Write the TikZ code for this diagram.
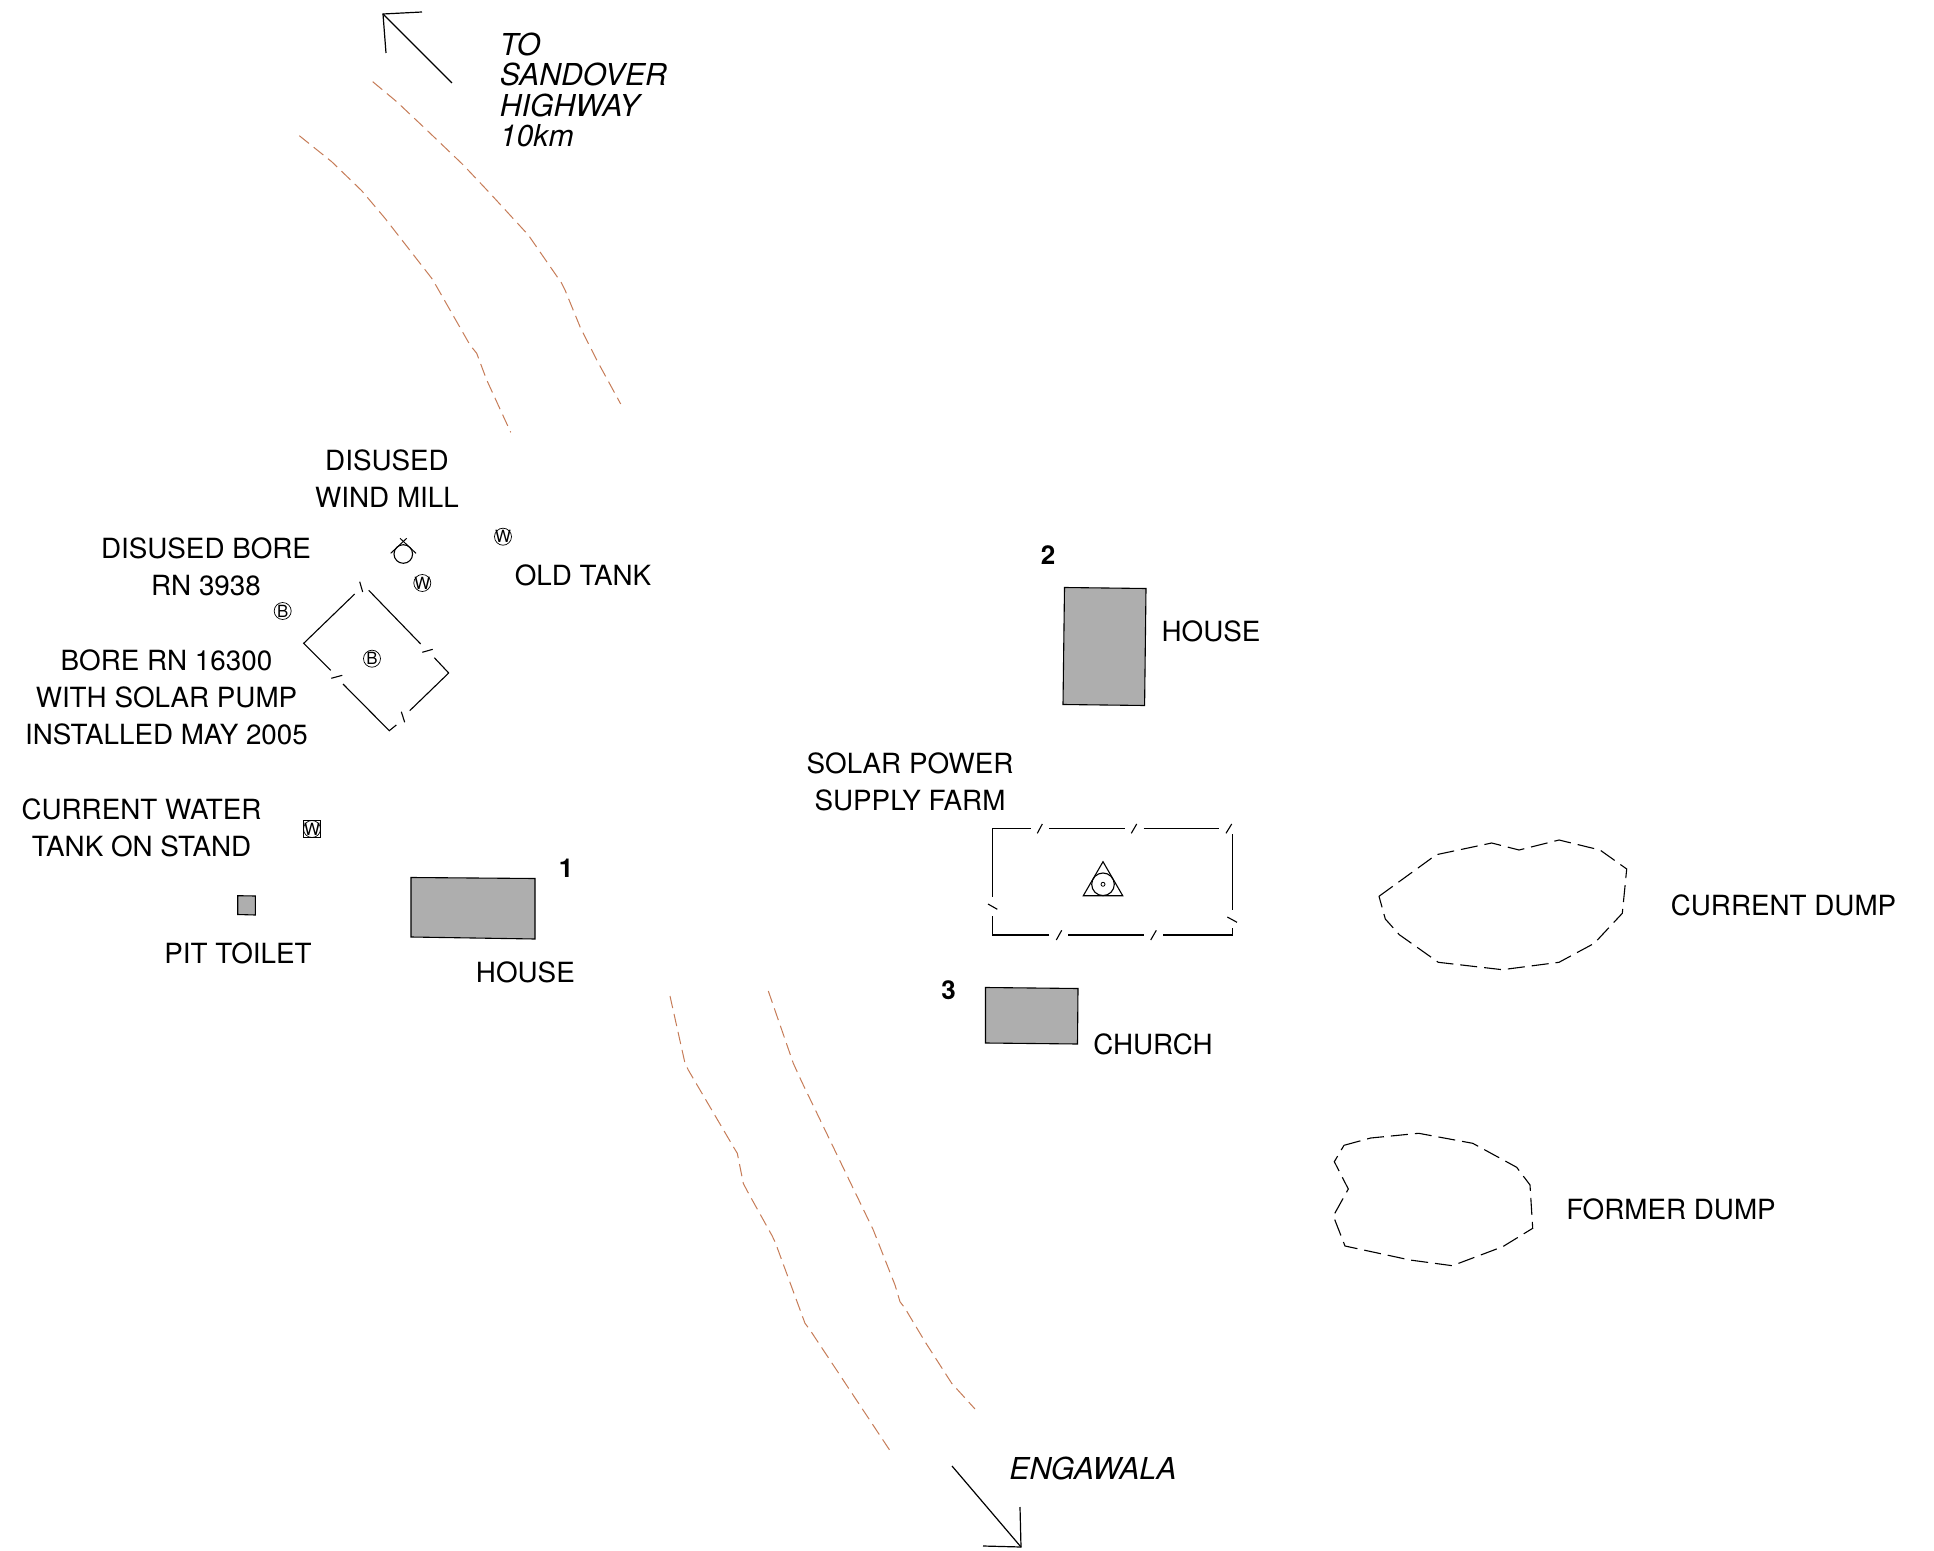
\documentclass[tikz,border=0pt]{standalone}
\usepackage{fontspec}
\setmainfont{TeX Gyre Heros}
\definecolor{roadcol}{HTML}{C67C58}
\definecolor{housecol}{HTML}{AEAEAE}
\begin{document}
\begin{tikzpicture}[x=0.5pt, y=-0.5pt, line join=miter,
    every node/.style={font=\fontsize{13.9}{18.5}\selectfont, inner sep=0pt, align=center},
    roadline/.style={draw=roadcol, line width=0.5pt, dash pattern=on 6.2pt off 3pt},
    dumpline/.style={draw=black, line width=0.55pt, dash pattern=on 8.5pt off 3.5pt},
    fenceline/.style={draw=black, line width=0.55pt},
    building/.style={draw=black, fill=housecol, line width=0.55pt},
    wellmark/.style={draw=black, circle, inner sep=-1pt, line width=0.35pt, minimum size=8.5pt, font=\fontsize{8.4}{9}\selectfont},
    routelabel/.style={font=\fontsize{15.1}{15.2}\selectfont\itshape, align=left},
    numlabel/.style={font=\fontsize{13}{15}\selectfont\bfseries}]
    \useasboundingbox (0,0) rectangle (1934,1551);

    % arrows
    \coordinate (hwytail) at (452,83);
    \coordinate (hwytip) at (383,14);
    \coordinate (hwybarba) at (422,12);
    \coordinate (hwybarbb) at (386,53);
    \draw[line width=0.6pt] (hwytail) -- (hwytip);
    \draw[line width=0.6pt] (hwybarba) -- (hwytip) -- (hwybarbb);
    \coordinate (engtail) at (952,1466);
    \coordinate (engtip) at (1021,1547);
    \coordinate (engbarba) at (983,1546);
    \coordinate (engbarbb) at (1020,1507);
    \draw[line width=0.6pt] (engtail) -- (engtip);
    \draw[line width=0.6pt] (engbarba) -- (engtip) -- (engbarbb);

    % road edges
    \draw[roadline] (372.7,81.7) -- (396.7,101.7) -- (426.7,130) -- (463.3,165) -- (490,193.3) -- (528.3,235) -- (561.7,283.3) -- (565,290) -- (580,326.7) -- (596.7,360) -- (620.7,404);
    \draw[roadline] (299.3,135.7) -- (331.7,161.7) -- (361.7,190.7) -- (385,218.3) -- (431.7,278.3) -- (436.7,286.7) -- (470,345) -- (476.7,353.3) -- (486.7,380) -- (510.7,432.3);
    \draw[roadline] (670,996) -- (685,1063.3) -- (688.3,1070) -- (733.3,1146.7) -- (737.3,1153.3) -- (743.3,1183.3) -- (746.7,1190) -- (771.7,1235) -- (775,1241.7) -- (805,1323.3) -- (810,1330) -- (890.7,1451.7);
    \draw[roadline] (768.3,991) -- (793.3,1063.3) -- (801.7,1081.7) -- (873.3,1230) -- (895,1285) -- (900,1301.7) -- (905,1308.3) -- (925,1341.7) -- (951.7,1383.3) -- (975,1409);

    % houses
    \draw[building] (411,877.5) -- (535,878.5) -- (535,939) -- (411,937) -- cycle;
    \draw[building] (1064.5,587.5) -- (1146,588.5) -- (1144.6,705.5) -- (1063,704.5) -- cycle;
    \draw[building] (985.5,987.5) -- (1078,988.5) -- (1077.5,1044) -- (985.5,1043) -- cycle;
    \draw[building] (237.7,895.7) -- (255.3,896) -- (255.3,915) -- (237.7,914.5) -- cycle;

    % dumps
    \draw[dumpline] (1379,896.3) -- (1436.3,854.7) -- (1491.7,843) -- (1519,850) -- (1559,840) -- (1600,850) -- (1626.7,869) -- (1622.3,913.3) -- (1594.3,943.3) -- (1559,962.3) -- (1502.3,969.7) -- (1438.3,962.3) -- (1399.3,934.7) -- (1385.3,919) -- cycle;
    \draw[dumpline] (1344,1145.3) -- (1370.7,1138) -- (1418.7,1133.3) -- (1472.7,1143.3) -- (1516.7,1167.3) -- (1530,1185) -- (1532.7,1228.3) -- (1502.7,1246.7) -- (1452.3,1265.7) -- (1410,1260) -- (1345,1246) -- (1333.3,1216) -- (1348.3,1189) -- (1334.3,1161.7) -- cycle;

    % bore fence
    \draw[fenceline] (354.7,594) -- (303.7,643.3) -- (330.7,670.3);
    \draw[fenceline] (359.7,581.7) -- (362.7,592);
    \draw[fenceline] (368.7,590.3) -- (420.7,644);
    \draw[fenceline] (422.3,652.3) -- (432.7,649.3);
    \draw[fenceline] (434.3,657.7) -- (448.7,673) -- (409.7,710.7);
    \draw[fenceline] (401.3,711.7) -- (404.7,722.3);
    \draw[fenceline] (396.3,725) -- (389.3,730.7) -- (343,684);
    \draw[fenceline] (331.3,678.3) -- (342.3,675.3);

    % solar fence
    \draw[fenceline] (992.3,896.7) -- (992.3,828.7) -- (1030.7,828.7);
    \draw[fenceline] (1049,828.7) -- (1125,828.7);
    \draw[fenceline] (1143.7,828.7) -- (1219.3,828.7);
    \draw[fenceline] (1232.3,834) -- (1232.3,910);
    \draw[fenceline] (1232.3,928.3) -- (1232.3,935) -- (1163,935);
    \draw[fenceline] (1143.7,935) -- (1068,935);
    \draw[fenceline] (1049,935) -- (992.3,935) -- (992.3,916.3);
    \foreach \xa/\ya/\xb/\yb in {1037.3/833.3/1042.3/824, 1131.3/833.3/1136.7/824, 1226/833.3/1231.7/824, 1227.3/917/1237/922.3, 1150.7/940/1156.3/930.3, 1056.3/940/1061.7/930.3, 988/904/997.3/909.3}
        \draw[fenceline] (\xa,\ya) -- (\xb,\yb);

    % solar mark
    \draw[fenceline] (1103,861.7) -- (1083.3,895.7) -- (1122.7,895.7) -- cycle;
    \draw[fenceline] (1103,884.3) circle (11.3);
    \draw[line width=0.4pt] (1103,884.3) circle (2);

    % wind mill
    \draw[fenceline] (403.3,554) circle (9.3);
    \draw[line width=0.5pt] (400,538.3) -- (416,553.3);
    \draw[line width=0.5pt] (406.7,538.3) -- (390.7,553.3);

    % wells and tanks
    \node[wellmark] (tankb) at (422.3,583) {W};
    \node[wellmark] (tanka) at (503,536.7) {W};
    \node[wellmark] (borea) at (282.7,611) {B};
    \node[wellmark] (boreb) at (372,658.7) {B};
    \node[wellmark] (tankc) at (312,829) {W};
    \draw[line width=0.5pt] (303.3,820.3) rectangle (320.7,837.7);

    % labels
    \node (windlbl) at (387,479) {DISUSED\\WIND MILL};
    \node (disusedlbl) at (206,567) {DISUSED BORE\\RN 3938};
    \node (borelbl) at (166.5,697) {BORE RN 16300\\WITH SOLAR PUMP\\INSTALLED MAY 2005};
    \node (oldlbl) at (583,575) {OLD TANK};
    \node (currentlbl) at (141.5,828) {CURRENT WATER\\TANK ON STAND};
    \node (pitlbl) at (238,953) {PIT TOILET};
    \node (houseonelbl) at (525.4,972) {HOUSE};
    \node (housetwolbl) at (1211,631.5) {HOUSE};
    \node (solarlbl) at (910,782) {SOLAR POWER\\SUPPLY FARM};
    \node (churchlbl) at (1153,1044.7) {CHURCH};
    \node (cdumplbl) at (1783.5,905) {CURRENT DUMP};
    \node (fdumplbl) at (1671,1209) {FORMER DUMP};
    \node[numlabel] (numone) at (566,868) {1};
    \node[numlabel] (numtwo) at (1048,555) {2};
    \node[numlabel] (numthree) at (948.5,990) {3};
    \node[routelabel, anchor=west] (hwylbl) at (499.5,90) {TO\\SANDOVER\\HIGHWAY\\10km};
    \node[routelabel] (englbl) at (1093,1468) {ENGAWALA};
\end{tikzpicture}
\end{document}
